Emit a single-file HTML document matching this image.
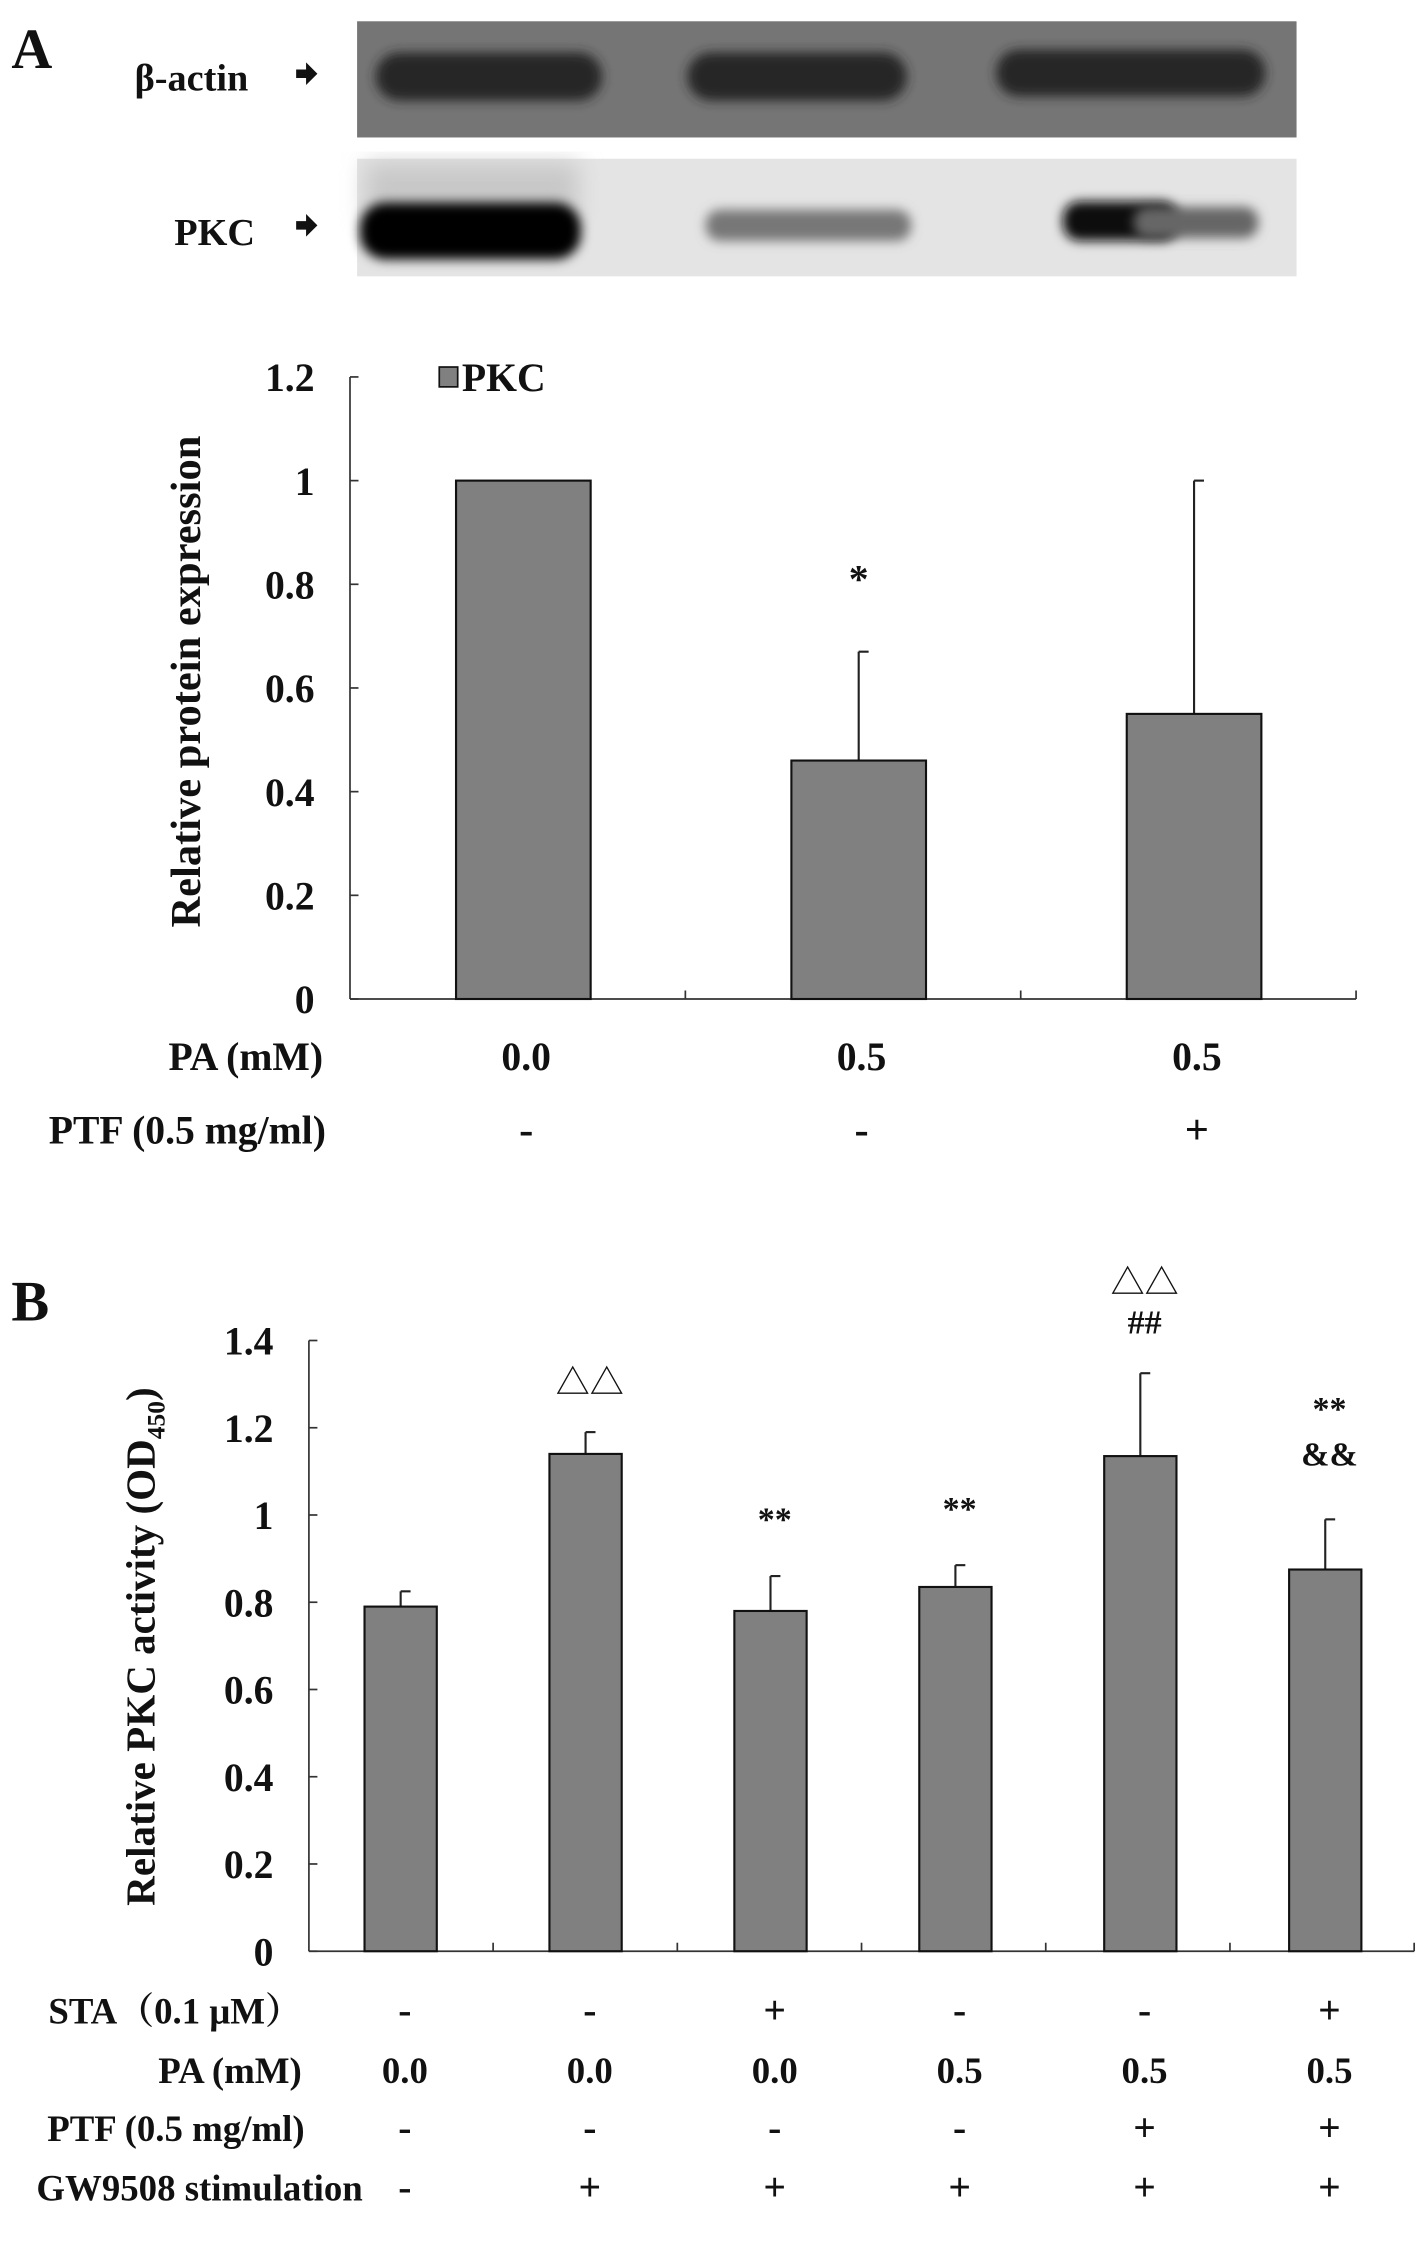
<!DOCTYPE html>
<html><head><meta charset="utf-8">
<style>
html,body{margin:0;padding:0;background:#fff}
svg{display:block}
text{font-family:"Liberation Serif","Noto Serif CJK SC",serif;font-weight:bold;fill:#111}
</style></head>
<body>
<svg id="fig" width="1417" height="2244" viewBox="0 0 1000 1583.6" xmlns="http://www.w3.org/2000/svg">
<defs>
<filter id="blur" x="-20%" y="-50%" width="140%" height="200%"><feGaussianBlur stdDeviation="4"/></filter>
<filter id="blur2" x="-20%" y="-20%" width="140%" height="140%"><feGaussianBlur stdDeviation="8"/></filter>
</defs>
<rect width="1000" height="1583.6" fill="#fff"/>

<text x="8" y="48" font-size="40">A</text>
<g>
<rect x="252" y="15" width="663" height="82" fill="#757575"/>
<rect x="265" y="37" width="160" height="34" rx="17" fill="#262626" filter="url(#blur)"/>
<rect x="485" y="37" width="155" height="34" rx="17" fill="#262626" filter="url(#blur)"/>
<rect x="703" y="35" width="190" height="33" rx="16" fill="#262626" filter="url(#blur)"/>
</g>
<text x="95" y="64" font-size="27">β-actin</text>
<path d="M209 49 h7 v-5 l8 8 l-8 8 v-5 h-7z" fill="#111"/>
<g>
<rect x="252" y="112" width="663" height="83" fill="#e4e4e4"/>
<rect x="258" y="115" width="150" height="40" fill="#c8c8c8" filter="url(#blur2)"/>
<rect x="254" y="143" width="156" height="40" rx="18" fill="#050505" filter="url(#blur)"/>
<rect x="498" y="148" width="145" height="22" rx="10" fill="#777" filter="url(#blur)"/>
<rect x="750" y="142" width="82" height="28" rx="12" fill="#111" filter="url(#blur)"/>
<rect x="800" y="146" width="88" height="22" rx="10" fill="#666" filter="url(#blur)"/>
</g>
<text x="123" y="173" font-size="27">PKC</text>
<path d="M209 156 h7 v-5 l8 8 l-8 8 v-5 h-7z" fill="#111"/>

<g id="chartA"></g>
<g id="chartB"></g>
<text x="8" y="932" font-size="40">B</text>
</svg>
<script>
// Chart A data
const aCategories = ["0.0 / -", "0.5 / -", "0.5 / +"];
const aValues = [1.0, 0.46, 0.55];
const aErrors = [0, 0.21, 0.45];
const aTicks = [0, 0.2, 0.4, 0.6, 0.8, 1, 1.2];
const aTickLabels = ["0", "0.2", "0.4", "0.6", "0.8", "1", "1.2"];
const aPA = ["0.0", "0.5", "0.5"];
const aPTF = ["-", "-", "+"];
const aSig = ["", "*", ""];

// Chart B data
const bValues = [0.79, 1.14, 0.78, 0.835, 1.135, 0.875];
const bErrors = [0.035, 0.05, 0.08, 0.05, 0.19, 0.115];
const bTicks = [0, 0.2, 0.4, 0.6, 0.8, 1, 1.2, 1.4];
const bTickLabels = ["0", "0.2", "0.4", "0.6", "0.8", "1", "1.2", "1.4"];
const bSTA = ["-", "-", "+", "-", "-", "+"];
const bPA = ["0.0", "0.0", "0.0", "0.5", "0.5", "0.5"];
const bPTF = ["-", "-", "-", "-", "+", "+"];
const bGW = ["-", "+", "+", "+", "+", "+"];
const bSig1 = ["", "△△", "**", "**", "△△", "**"];
const bSig2 = ["", "", "", "", "##", "&&"];

const NS = "http://www.w3.org/2000/svg";
function mk(parent, tag, attrs, txt) {
  const e = document.createElementNS(NS, tag);
  for (const k in attrs) e.setAttribute(k, attrs[k]);
  if (txt !== undefined) e.textContent = txt;
  parent.appendChild(e);
  return e;
}

// ---- Chart A ----
(function () {
  const g = document.getElementById("chartA");
  const x0 = 247, x1 = 957, y0 = 705, yTop = 266, vmax = 1.2;
  const y = v => y0 - (v / vmax) * (y0 - yTop);
  const n = aValues.length, cw = (x1 - x0) / n;
  const cx = i => x0 + cw * (i + 0.5);
  const bw = 95;
  let e = mk(g, "line", {x1: x0, y1: yTop, x2: x0, y2: y0, stroke: "#333", "stroke-width": 1.2});
  
  
  e = mk(g, "line", {x1: x0, y1: y0, x2: x1, y2: y0, stroke: "#333", "stroke-width": 1.2});
  
  
  aTicks.forEach((t, i) => {
    const yy = y(t);
    let tk = mk(g, "line", {x1: x0, y1: yy, x2: x0 + 6, y2: yy, stroke: "#333", "stroke-width": 1.2});
    
    
    let tl = mk(g, "text", {x: 222, y: yy + 10, "font-size": 28, "text-anchor": "end"}, aTickLabels[i]);
    
    
  });
  for (let i = 1; i <= n; i++) {
    let tk = mk(g, "line", {x1: x0 + cw * i, y1: y0, x2: x0 + cw * i, y2: y0 - 6, stroke: "#333", "stroke-width": 1.2});
    
    
  }
  aValues.forEach((v, i) => {
    const c = cx(i) + 4;
    if (aErrors[i] > 0) {
      let el = mk(g, "line", {x1: c, y1: y(v), x2: c, y2: y(v + aErrors[i]), stroke: "#222", "stroke-width": 1.5});
      
      
      let cap = mk(g, "line", {x1: c, y1: y(v + aErrors[i]), x2: c + 7, y2: y(v + aErrors[i]), stroke: "#222", "stroke-width": 1.5});
      
      
    }
    let b = mk(g, "rect", {x: c - bw / 2, y: y(v), width: bw, height: y0 - y(v), fill: "#808080", stroke: "#111", "stroke-width": 1.5});
    
    
    if (aSig[i]) {
      let s = mk(g, "text", {x: c, y: 418, "font-size": 28, "text-anchor": "middle", "font-weight": "normal"}, aSig[i]);
      
      
    }
    let p = mk(g, "text", {x: c + 2, y: 755, "font-size": 28, "text-anchor": "middle"}, aPA[i]);
    
    
    let f = mk(g, "text", {x: c + 2, y: 807, "font-size": 30, "text-anchor": "middle"}, aPTF[i]);
    
    
  });
  let lg = mk(g, "rect", {x: 310, y: 259, width: 13, height: 14, fill: "#808080", stroke: "#111", "stroke-width": 1.2});
  
  
  let lt = mk(g, "text", {x: 326, y: 276, "font-size": 28}, "PKC");
  
  
  let yt = mk(g, "text", {x: 0, y: 0, "font-size": 30, "text-anchor": "middle", transform: "translate(141,481) rotate(-90)"}, "Relative protein expression");
  
  
  let r1 = mk(g, "text", {x: 228, y: 755, "font-size": 28, "text-anchor": "end"}, "PA  (mM)");
  
  
  let r2 = mk(g, "text", {x: 230, y: 807, "font-size": 28, "text-anchor": "end"}, "PTF (0.5 mg/ml)");
  
  
})();

// ---- Chart B ----
(function () {
  const g = document.getElementById("chartB");
  const x0 = 218, x1 = 998, y0 = 1377, yTop = 946, vmax = 1.4;
  const y = v => y0 - (v / vmax) * (y0 - yTop);
  const n = bValues.length, cw = (x1 - x0) / n;
  const cx = i => x0 + cw * (i + 0.5) + (i - 2.5) * 0.5 + 1;
  const bw = 51;
  let e = mk(g, "line", {x1: x0, y1: yTop, x2: x0, y2: y0, stroke: "#333", "stroke-width": 1.2});
  
  
  e = mk(g, "line", {x1: x0, y1: y0, x2: x1, y2: y0, stroke: "#333", "stroke-width": 1.2});
  
  
  bTicks.forEach((t, i) => {
    const yy = y(t);
    let tk = mk(g, "line", {x1: x0, y1: yy, x2: x0 + 6, y2: yy, stroke: "#333", "stroke-width": 1.2});
    
    
    let tl = mk(g, "text", {x: 193, y: yy + 10, "font-size": 28, "text-anchor": "end"}, bTickLabels[i]);
    
    
  });
  for (let i = 1; i <= n; i++) {
    let tk = mk(g, "line", {x1: x0 + cw * i, y1: y0, x2: x0 + cw * i, y2: y0 - 6, stroke: "#333", "stroke-width": 1.2});
    
    
  }
  const rows = [[bSTA, 1428, "sta-value"], [bPA, 1470, "pa-value"], [bPTF, 1511, "ptf-value"], [bGW, 1553, "gw9508-value"]];
  bValues.forEach((v, i) => {
    const c = cx(i);
    let el = mk(g, "line", {x1: c, y1: y(v), x2: c, y2: y(v + bErrors[i]), stroke: "#222", "stroke-width": 1.5});
    
    
    let cap = mk(g, "line", {x1: c, y1: y(v + bErrors[i]), x2: c + 7, y2: y(v + bErrors[i]), stroke: "#222", "stroke-width": 1.5});
    
    
    let b = mk(g, "rect", {x: c - bw / 2, y: y(v), width: bw, height: y0 - y(v), fill: "#808080", stroke: "#111", "stroke-width": 1.5});
    
    
    const top = y(v + bErrors[i]);
    if (bSig2[i]) {
      let s2 = mk(g, "text", {x: c + 3, y: top - 28 - (i === 5 ? 10 : 0), "font-size": 24, "text-anchor": "middle", "font-weight": "normal", fill: "#444"}, bSig2[i]);
      
      
    }
    if (bSig1[i]) {
      const off = bSig2[i] ? (i === 5 ? 70 : 56) : (bSig1[i] === "△△" ? 27 : 32);
      let s1 = mk(g, "text", {x: c + 3, y: top - off, "font-size": 24, "text-anchor": "middle", "font-weight": "normal", fill: "#444"}, bSig1[i]);
      
      
    }
    rows.forEach(r => {
      const sym = r[0][i];
      let t = mk(g, "text", {x: c + 3, y: r[1], "font-size": sym.length > 1 ? 26 : 28, "text-anchor": "middle"}, sym);
      
      
    });
  });
  let yt = mk(g, "text", {x: 0, y: 0, "font-size": 29, "text-anchor": "middle", transform: "translate(109,1162) rotate(-90)"});
  
  
  mk(yt, "tspan", {}, "Relative PKC activity (OD");
  mk(yt, "tspan", {"font-size": 18, dy: 7}, "450");
  mk(yt, "tspan", {dy: -7}, ")");
  const labels = [["STA（0.1 μM）", 1428, 213, "sta-row-label"], ["PA  (mM)", 1470, 213, "pa-row-label"], ["PTF (0.5 mg/ml)", 1511, 215, "ptf-row-label"], ["GW9508  stimulation", 1553, 256, "gw9508-row-label"]];
  labels.forEach(l => {
    let t = mk(g, "text", {x: l[2], y: l[1], "font-size": 26, "text-anchor": "end"}, l[0]);
    
    
  });
})();
</script>
</body></html>
